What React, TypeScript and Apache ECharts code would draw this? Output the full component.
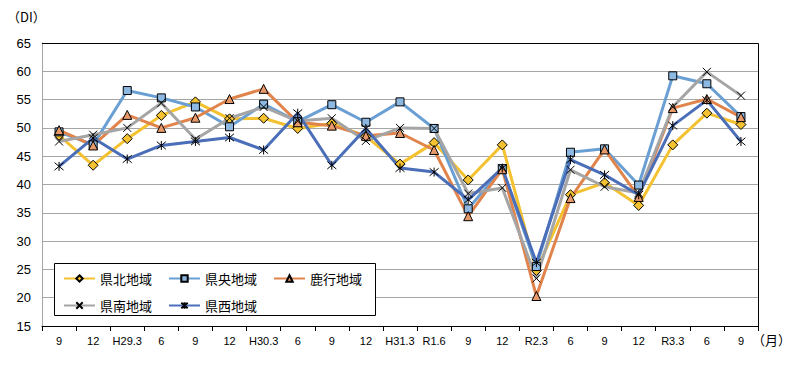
import React, { useEffect, useRef } from "react";
import * as echarts from "echarts";

const categories = ["9", "12", "H29.3", "6", "9", "12", "H30.3", "6", "9", "12", "H31.3", "R1.6", "9", "12", "R2.3", "6", "9", "12", "R3.3", "6", "9"];
const kenpoku = [48.7, 43.4, 48.1, 52.2, 54.6, 51.6, 51.7, 49.9, 50.8, 48.5, 43.6, 47.4, 40.8, 47.0, 24.8, 38.2, 40.3, 36.3, 47.0, 52.6, 50.6];
const kenou = [49.3, 47.0, 56.6, 55.3, 53.7, 50.2, 54.2, 51.1, 54.1, 51.0, 54.6, 49.9, 35.7, 42.8, 25.5, 45.7, 46.3, 39.9, 59.2, 57.8, 52.0];
const rokko = [49.6, 46.9, 52.3, 50.0, 51.8, 55.1, 56.9, 51.0, 50.4, 48.6, 49.1, 46.1, 34.4, 42.7, 20.3, 37.6, 46.2, 37.8, 53.5, 55.1, 51.9];
const kennan = [47.6, 48.8, 50.0, 54.4, 48.0, 51.7, 53.7, 51.2, 51.7, 47.7, 50.0, 49.9, 38.4, 39.4, 23.4, 42.6, 39.6, 38.5, 53.7, 59.9, 55.7];
const kensei = [43.2, 48.2, 44.5, 46.9, 47.6, 48.3, 46.1, 52.6, 43.4, 49.9, 42.9, 42.2, 37.3, 42.9, 26.2, 44.4, 41.7, 38.2, 50.4, 54.9, 47.6];
const seriesNames = ["県北地域", "県央地域", "鹿行地域", "県南地域", "県西地域"];
const yTicks = { min: 15, max: 65, interval: 5 };

const FONT = "'Liberation Sans', 'Noto Sans CJK JP', sans-serif";
const CJK = "'Noto Sans CJK JP', sans-serif";

const X_PATH = "path://M0,0L10,10M10,0L0,10";
const STAR_PATH = "path://M0,0L10,10M10,0L0,10M5,-1L5,11";

export default function App() {
  const ref = useRef<HTMLDivElement>(null);
  useEffect(() => {
    if (!ref.current) return;
    const chart = echarts.init(ref.current, null, { renderer: "svg" });
    const mk = (name: string, data: number[], color: string, symbol: string, size: number, fill: string) => ({
      name,
      type: "line",
      data,
      symbol,
      symbolSize: size,
      showAllSymbol: true,
      lineStyle: { color, width: 3 },
      itemStyle: { color: fill, borderColor: "#000", borderWidth: 1 },
      emphasis: { disabled: true },
    });
    const legendBase = {
      left: 63,
      padding: 0,
      itemWidth: 31,
      itemHeight: 8,
      itemGap: 16,
      textStyle: { fontSize: 13, fontFamily: CJK, color: "#000" },
      z: 20,
    };
    chart.setOption({
      animation: false,
      grid: { left: 42, right: 33, top: 43, bottom: 41, containLabel: false },
      xAxis: {
        type: "category",
        data: categories,
        boundaryGap: true,
        axisLine: { lineStyle: { color: "#000", width: 1 } },
        axisTick: { show: true, length: 5, lineStyle: { color: "#000" } },
        axisLabel: { interval: 0, color: "#000", fontSize: 11, fontFamily: FONT, margin: 9 },
        splitLine: { show: false },
      },
      yAxis: {
        type: "value",
        min: yTicks.min,
        max: yTicks.max,
        interval: yTicks.interval,
        axisLine: { show: true, lineStyle: { color: "#a6a6a6" } },
        axisTick: { show: false },
        axisLabel: { color: "#000", fontSize: 13, fontFamily: FONT, margin: 11 },
        splitLine: { lineStyle: { color: "#a6a6a6", width: 1 } },
      },
      legend: [
        { ...legendBase, data: seriesNames.slice(0, 3), top: 272 },
        { ...legendBase, data: seriesNames.slice(3), top: 299 },
      ],
      graphic: [
        { type: "line", z: 100, shape: { x1: 42, y1: 43.5, x2: 758.5, y2: 43.5 }, style: { stroke: "#000", lineWidth: 1 } },
        { type: "line", z: 100, shape: { x1: 758.5, y1: 43.5, x2: 758.5, y2: 326 }, style: { stroke: "#000", lineWidth: 1 } },
        { type: "rect", z: 10, shape: { x: 54.5, y: 263.5, width: 321, height: 52 }, style: { fill: "#fff", stroke: "#000", lineWidth: 1 } },
        { type: "text", left: 7, top: 10, style: { text: "（DI）", fontSize: 13, fontFamily: CJK, fill: "#000" } },
        { type: "text", left: 752, top: 333, style: { text: "（月）", fontSize: 13, fontFamily: CJK, fill: "#000" } },
      ],
      series: [
        mk(seriesNames[0], kenpoku, "#F4C231", "diamond", 10, "#F4C231"),
        mk(seriesNames[1], kenou, "#6A9FD3", "rect", 8, "#8DB8E2"),
        mk(seriesNames[2], rokko, "#E0844C", "triangle", 9, "#E8996A"),
        mk(seriesNames[3], kennan, "#A5A5A5", X_PATH, 8, "#A5A5A5"),
        mk(seriesNames[4], kensei, "#4A6EB8", STAR_PATH, 9, "#4A6EB8"),
      ],
    });
    return () => chart.dispose();
  }, []);
  return <div ref={ref} style={{ width: 791, height: 367, position: "absolute", left: 0, top: 0 }} />;
}
